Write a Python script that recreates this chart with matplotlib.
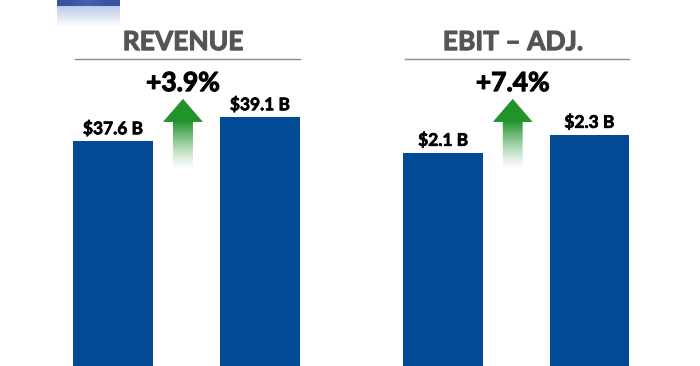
import matplotlib
matplotlib.use("Agg")
import matplotlib.pyplot as plt
import matplotlib.patheffects as pe
import numpy as np
from matplotlib.patches import Polygon

plt.rcParams['font.family'] = ['Lato', 'DejaVu Sans']

# data
panels = ["REVENUE", "EBIT \u2013 ADJ."]
revenue = [37.6, 39.1]
ebit = [2.1, 2.3]
labels_rev = ["$37.6 B", "$39.1 B"]
labels_ebit = ["$2.1 B", "$2.3 B"]
changes = ["+3.9%", "+7.4%"]
ylims = [(23.56, 46.44), (-0.267, 3.8)]

bar_color = "#034a96"
green = np.array([0.13, 0.58, 0.17])

fig = plt.figure(figsize=(7, 3.66), dpi=100)
W, H = 700, 366


def heavy(color, lw=0.7):
    # thicken the bold glyphs a little, closer to the source font
    return [pe.withStroke(linewidth=lw, foreground=color)]


def add_arrow(ax):
    iax = ax.inset_axes([0.42, 0.535, 0.136, 0.195])
    iax.set_xlim(0, 1)
    iax.set_ylim(0, 1)
    iax.axis("off")
    n = 200
    yy = np.linspace(0, 1, n)[:, None]
    alpha = np.clip(yy / 0.68, 0, 1) ** 1.3
    img = np.zeros((n, 2, 4))
    img[..., :3] = green
    img[..., 3] = alpha
    im = iax.imshow(img, extent=[0, 1, 0, 1], origin="lower", aspect="auto")
    shape = Polygon([[0.25, 0], [0.75, 0], [0.75, 0.676], [1.0, 0.676],
                     [0.5, 1.0], [0.0, 0.676], [0.25, 0.676]],
                    closed=True, transform=iax.transData, facecolor="none",
                    edgecolor="none")
    iax.add_patch(shape)
    im.set_clip_path(shape)


panel_px = [(39.5, 333.5), (370, 662.5)]
values = [revenue, ebit]
bar_labels = [labels_rev, labels_ebit]

for i in range(2):
    x0, x1 = panel_px[i]
    ax = fig.add_axes([x0 / W, 0, (x1 - x0) / W, 1])
    lo, hi = ylims[i]
    vals = np.array(values[i])
    xs = np.arange(len(vals))
    bars = ax.bar(xs, vals - lo, bottom=lo, width=0.544, color=bar_color)
    ax.set_xlim(-0.5, 1.5)
    ax.set_ylim(lo, hi)
    ax.axis("off")
    for b, lab in zip(bars, bar_labels[i]):
        ax.annotate(lab, (b.get_x() + b.get_width() / 2, b.get_y() + b.get_height()),
                    xytext=(0, 3), textcoords="offset points", ha="center",
                    va="bottom", fontsize=12.5, fontweight="bold", color="black",
                    path_effects=heavy("black", 0.5))
    ax.text(0.488, 0.885, panels[i], transform=ax.transAxes, ha="center",
            va="center", fontsize=19, fontweight="bold", color="#555555",
            path_effects=heavy("#555555", 0.8))
    ax.plot([0.12, 0.885], [0.839, 0.839], transform=ax.transAxes,
            color="#8c8c8c", lw=1.0)
    ax.text(0.488, 0.773, changes[i], transform=ax.transAxes, ha="center",
            va="center", fontsize=19, fontweight="bold", color="black",
            path_effects=heavy("black", 0.8))
    add_arrow(ax)

# decorative blue tab at the top left (cropped logo)
lax = fig.add_axes([57 / W, (H - 26) / H, 63 / W, 26 / H])
lax.axis("off")
n = 26
img = np.ones((n, 3, 3))
for r in range(n):
    if r < 6:
        img[r] = np.array([[0.22, 0.33, 0.62], [0.27, 0.38, 0.68], [0.22, 0.33, 0.62]])
    else:
        t = (r - 6) / 20
        img[r] = np.array([0.74, 0.80, 0.91]) * (1 - t) + np.ones(3) * t
lax.imshow(img, extent=[0, 1, 0, 1], aspect="auto", interpolation="bilinear")

fig.savefig("out.png", dpi=100)
